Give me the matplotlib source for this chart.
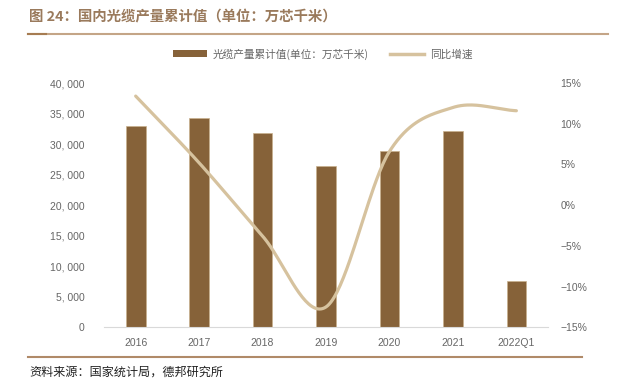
import numpy as np
import matplotlib
matplotlib.use("Agg")
import matplotlib.pyplot as plt
from matplotlib.lines import Line2D
from matplotlib.patches import Patch

plt.rcParams['font.family'] = ['Noto Sans CJK SC', 'DejaVu Sans']

# data
categories = ['2016', '2017', '2018', '2019', '2020', '2021', '2022Q1']
output_vals = [32950, 34200, 31750, 26450, 28850, 32200, 7550]   # 万芯千米
yoy_pct = [13.4, 5.2, -3.8, -12.5, 6.6, 12.0, 11.6]               # %
left_ticks = [0, 5000, 10000, 15000, 20000, 25000, 30000, 35000, 40000]
right_ticks = [-15, -10, -5, 0, 5, 10, 15]

BAR_C = '#866239'
LINE_C = '#d6c29e'
TICK_C = '#666666'
TITLE_C = '#9a7a5c'


def catmull_rom(x, y, n=40):
    """Smooth curve through the points (Excel-like smoothed line)."""
    x = np.asarray(x, float)
    y = np.asarray(y, float)
    px = np.concatenate([[2 * x[0] - x[1]], x, [2 * x[-1] - x[-2]]])
    py = np.concatenate([[2 * y[0] - y[1]], y, [2 * y[-1] - y[-2]]])
    xs, ys = [], []
    for i in range(1, len(px) - 2):
        t = np.linspace(0, 1, n, endpoint=False)
        for arr, out in ((px, xs), (py, ys)):
            p0, p1, p2, p3 = arr[i - 1], arr[i], arr[i + 1], arr[i + 2]
            out.append(0.5 * ((2 * p1) + (-p0 + p2) * t
                              + (2 * p0 - 5 * p1 + 4 * p2 - p3) * t ** 2
                              + (-p0 + 3 * p1 - 3 * p2 + p3) * t ** 3))
    xs.append([x[-1]])
    ys.append([y[-1]])
    return np.concatenate(xs), np.concatenate(ys)


fig = plt.figure(figsize=(6.3, 3.81), dpi=100)
ax = fig.add_axes([0.165, 0.141, 0.705, 0.641])
ax2 = ax.twinx()

x = np.arange(len(categories))
ax.bar(x, output_vals, width=0.31, color=BAR_C, edgecolor='#c9b08e', linewidth=0.5, zorder=2)
ax.set_xlim(-0.5, len(categories) - 0.5)
ax.set_ylim(0, 40000)
ax.set_yticks(left_ticks)
ax.set_yticklabels([f'{v:,}'.replace(',', ', ') for v in left_ticks])
ax.set_xticks(x)
ax.set_xticklabels(categories)

sx, sy = catmull_rom(x, yoy_pct)
ax2.plot(sx, sy, color=LINE_C, linewidth=2.3, solid_capstyle='round', zorder=3)
ax2.set_ylim(-15, 15)
ax2.set_yticks(right_ticks)
ax2.set_yticklabels([f'{v}%'.replace('-', '\u2212') for v in right_ticks])

for a in (ax, ax2):
    for s in a.spines.values():
        s.set_visible(False)
    a.tick_params(length=0, labelsize=7.5, colors=TICK_C)
    for lab in a.get_xticklabels() + a.get_yticklabels():
        lab.set_family(['Liberation Sans', 'DejaVu Sans'])
ax.spines['bottom'].set_visible(True)
ax.spines['bottom'].set_color('#d9d9d9')
ax.tick_params(axis='y', pad=14)
ax.tick_params(axis='x', pad=8)
ax2.tick_params(axis='y', pad=9)

# legend
handles = [Patch(facecolor=BAR_C, edgecolor='none'),
           Line2D([0], [0], color=LINE_C, linewidth=2.5)]
fig.legend(handles, ['光缆产量累计值(单位：万芯千米)', '同比增速'],
           loc='center', bbox_to_anchor=(0.512, 1 - 54 / 381), ncol=2,
           frameon=False, fontsize=7.7, labelcolor=TICK_C,
           handlelength=3.2, handleheight=0.6, columnspacing=2.0, handletextpad=0.5)

# title and decorative rules
fig.text(29 / 630, 1 - 17 / 381, '图 24：国内光缆产量累计值（单位：万芯千米）',
         fontsize=10.4, fontweight='bold', color=TITLE_C, va='center', ha='left')
fig.add_artist(Line2D([28 / 630, 608 / 630], [1 - 33.7 / 381] * 2, color='#c4a587', linewidth=1.5))
fig.add_artist(Line2D([28 / 630, 46 / 630], [1 - 33.7 / 381] * 2, color='#a67c52', linewidth=1.5))
fig.add_artist(Line2D([28 / 630, 582 / 630], [1 - 356.7 / 381] * 2, color='#b08a68', linewidth=1.5))
fig.text(29 / 630, 1 - 372 / 381, '资料来源：国家统计局，德邦研究所',
         fontsize=8.7, color='#222222', va='center', ha='left')

fig.savefig('out.png', dpi=100)
